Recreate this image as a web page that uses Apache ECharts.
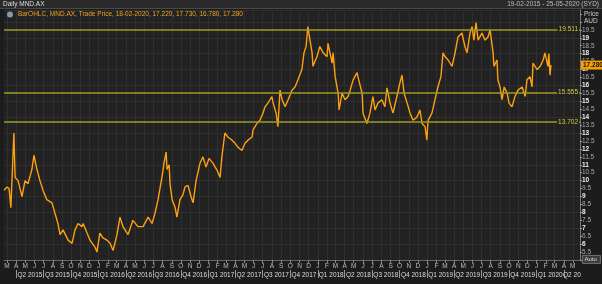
<!DOCTYPE html>
<html><head><meta charset="utf-8">
<script src="https://cdn.jsdelivr.net/npm/echarts@6/dist/echarts.min.js"></script>
<style>
html,body{margin:0;padding:0;background:#1c1c1c;}
#c{width:602px;height:284px;background:linear-gradient(to bottom,#2a2a2a 0,#2a2a2a 8px,#4a4a4a 8px,#4a4a4a 9px,#1c1c1c 9px);}
</style>
</head><body><div id="c"></div>
<script>
// ---- data ----
const dates = [
'2015-02-19','2015-03-01','2015-03-08','2015-03-14','2015-03-24','2015-03-28','2015-04-07','2015-04-20','2015-04-30','2015-05-10',
'2015-05-23','2015-05-30','2015-06-09','2015-06-19','2015-06-29','2015-07-12','2015-07-29','2015-08-08','2015-08-18','2015-08-25',
'2015-09-04','2015-09-21','2015-10-04','2015-10-14','2015-10-24','2015-11-06','2015-11-10','2015-11-23','2015-12-03','2015-12-20',
'2015-12-26','2016-01-05','2016-01-15','2016-01-29','2016-02-08','2016-02-18','2016-03-02','2016-03-12','2016-03-22','2016-04-08',
'2016-04-24','2016-05-11','2016-05-28','2016-06-14','2016-06-27','2016-07-07','2016-07-17','2016-07-30','2016-08-06','2016-08-13',
'2016-08-16','2016-08-23','2016-08-26','2016-09-02','2016-09-12','2016-09-18','2016-09-28','2016-10-08','2016-10-15','2016-10-25',
'2016-11-04','2016-11-11','2016-11-21','2016-12-04','2016-12-14','2016-12-24','2017-01-03','2017-01-16','2017-01-30','2017-02-09',
'2017-02-15','2017-02-25','2017-03-07','2017-03-21','2017-03-31','2017-04-10','2017-04-23','2017-05-03','2017-05-13','2017-05-27',
'2017-05-30','2017-06-12','2017-06-22','2017-07-02','2017-07-09','2017-07-19','2017-08-01','2017-08-05','2017-08-15','2017-08-21',
'2017-08-28','2017-09-04','2017-09-14','2017-09-24','2017-10-07','2017-10-17','2017-10-27','2017-11-09','2017-11-16','2017-11-23',
'2017-11-29','2017-12-06','2017-12-13','2017-12-16','2017-12-29','2018-01-08','2018-01-19','2018-02-01','2018-02-04','2018-02-18',
'2018-02-21','2018-02-28','2018-03-10','2018-03-13','2018-03-23','2018-04-02','2018-04-12','2018-04-19','2018-04-29','2018-05-12',
'2018-05-15','2018-05-29','2018-06-01','2018-06-14','2018-06-24','2018-07-04','2018-07-11','2018-07-21','2018-08-03','2018-08-13',
'2018-08-20','2018-08-30','2018-09-09','2018-09-22','2018-10-02','2018-10-09','2018-10-16','2018-10-26','2018-11-05','2018-11-15',
'2018-11-28','2018-12-08','2018-12-15','2018-12-25','2018-12-31','2019-01-04','2019-01-17','2019-01-27','2019-02-06','2019-02-16',
'2019-02-23','2019-03-02','2019-03-12','2019-03-25','2019-04-04','2019-04-14','2019-04-27','2019-05-07','2019-05-14','2019-05-24',
'2019-05-31','2019-06-06','2019-06-13','2019-06-20','2019-07-03','2019-07-13','2019-07-23','2019-07-30','2019-08-09','2019-08-12',
'2019-08-22','2019-08-25','2019-09-01','2019-09-08','2019-09-15','2019-09-25','2019-10-01','2019-10-11','2019-10-21','2019-10-31',
'2019-11-14','2019-11-24','2019-11-30','2019-12-10','2019-12-17','2019-12-20','2020-01-03','2020-01-13','2020-01-23','2020-01-29',
'2020-02-08','2020-02-11','2020-02-15','2020-02-18'
];
const closes = [
9.4,9.6,9.5,8.3,13.0,10.2,10.0,9.0,10.0,9.8,
10.7,11.6,10.7,10.0,9.4,8.8,8.6,7.95,7.3,6.6,
6.9,6.25,6.05,6.9,7.3,7.1,7.3,6.7,6.25,5.8,
5.5,6.7,6.4,6.25,6.05,5.6,6.6,7.7,7.1,6.6,
7.5,7.1,7.1,7.7,7.3,7.95,8.8,10.2,11.1,11.8,
10.7,11.0,9.8,8.8,8.3,7.7,8.8,9.1,9.6,9.7,
9.0,8.6,10.0,11.1,11.5,10.85,11.4,11.1,10.65,10.2,
11.5,13.0,12.75,12.55,12.35,12.1,11.9,12.35,12.55,12.75,
13.2,13.6,13.8,14.25,14.65,14.9,15.3,14.9,14.25,13.4,
15.7,15.1,14.65,15.1,15.7,15.9,16.35,17.0,18.05,18.45,
19.7,18.85,18.05,17.2,17.8,18.45,18.05,17.8,18.65,17.4,
18.05,16.55,15.5,14.45,15.5,15.1,15.3,15.7,16.35,16.8,
16.55,15.5,14.25,13.6,14.25,15.3,14.45,14.9,15.1,14.65,
15.85,14.9,14.25,15.3,16.15,16.65,15.5,14.9,14.25,13.8,
14.0,14.45,13.6,13.4,12.55,13.8,14.25,15.1,15.9,16.55,
18.05,17.8,17.6,17.2,18.05,19.05,19.3,18.45,18.05,19.3,
19.7,18.85,19.95,18.85,19.3,18.85,19.05,19.5,18.05,17.2,
17.6,16.35,15.9,15.1,15.9,15.5,14.9,14.65,15.3,15.7,
15.9,15.3,16.35,16.55,15.9,17.4,17.0,17.2,17.6,18.05,
17.2,18.0,16.65,17.28
];
const levels = [19.511, 15.555, 13.702];
const lastQuote = ['18-02-2020', 17.220, 17.730, 16.780, 17.280]; // date, open, high, low, close
const axisStart = '2015-02-19';
const axisEnd = '2020-05-25';
const monthLetters = ['J','F','M','A','M','J','J','A','S','O','N','D'];

// ---- helpers ----
const toT = s => { const p = s.split('-'); return new Date(+p[0], +p[1] - 1, +p[2]).getTime(); };
const seriesData = dates.map((d, i) => [toT(d), closes[i]]);
const startT = toT(axisStart), endT = toT(axisEnd);
const monthStarts = [];
for (let y = 2015; y <= 2020; y++) for (let m = 0; m < 12; m++) {
  const t = new Date(y, m, 1).getTime();
  if (t >= startT && t <= endT) monthStarts.push(t);
}
const quarterStarts = monthStarts.filter(t => new Date(t).getMonth() % 3 === 0);
const quarterMids = quarterStarts.map(t => {
  const d = new Date(t);
  const nx = new Date(d.getFullYear(), d.getMonth() + 3, 1).getTime();
  return Math.round((t + Math.min(nx, endT)) / 2);
});
const seriesName = 'BarOHLC, MND.AX, Trade Price, ' + lastQuote[0] + ', ' +
  lastQuote.slice(1).map(v => v.toFixed(3)).join(', ');

const FONT = 'Liberation Sans';
const chart = echarts.init(document.getElementById('c'), null, {renderer: 'canvas'});
chart.setOption({
  backgroundColor: 'transparent',
  animation: false,
  textStyle: {fontFamily: FONT},
  title: [
    {text: 'Daily MND.AX', left: 3, top: 1, padding: 0,
     textStyle: {fontSize: 6.5, color: '#dddddd', fontWeight: 'normal', fontFamily: FONT}},
    {text: '19-02-2015 - 25-05-2020 (SYD)', right: 3, top: 1, padding: 0,
     textStyle: {fontSize: 6.5, color: '#bbbbbb', fontWeight: 'normal', fontFamily: FONT}}
  ],
  legend: {
    left: 7, top: 11, padding: 0, itemWidth: 6, itemHeight: 6, itemGap: 3,
    data: [{name: seriesName, icon: 'circle', itemStyle: {color: '#8899aa'}}],
    textStyle: {color: '#f0a020', fontSize: 6.5, fontFamily: FONT}
  },
  grid: {left: 4, right: 22, top: 10, bottom: 24, show: true,
         backgroundColor: '#222222', borderColor: '#333333', borderWidth: 0},
  xAxis: [
    {type: 'value', min: startT, max: endT, position: 'bottom',
     axisLine: {lineStyle: {color: '#666666'}},
     axisTick: {customValues: monthStarts, length: 3, lineStyle: {color: '#888888'}},
     axisLabel: {customValues: monthStarts, formatter: v => monthLetters[new Date(v).getMonth()],
                 fontSize: 6.5, color: '#bbbbbb', margin: 3, fontFamily: FONT},
     splitLine: {show: true, lineStyle: {color: '#2f2f2f', width: 1}}},
    {type: 'value', min: startT, max: endT, position: 'bottom', offset: 10,
     axisLine: {show: false},
     axisTick: {customValues: quarterStarts, length: 8, lineStyle: {color: '#999999'}},
     axisLabel: {customValues: quarterMids, margin: 2, fontSize: 6.5, color: '#dddddd', fontFamily: FONT,
                 formatter: v => { const d = new Date(v); const q = Math.floor(d.getMonth()/3)+1;
                   return (v > new Date(2020,2,1).getTime()) ? 'Q' + q + ' 20' : 'Q' + q + ' ' + d.getFullYear(); }},
     splitLine: {show: false}}
  ],
  yAxis: [
    {type: 'value', position: 'right', min: 5, max: 20.75, interval: 0.5,
     axisLine: {show: true, lineStyle: {color: '#777777'}},
     axisTick: {show: true, length: 2, lineStyle: {color: '#999999'}},
     axisLabel: {margin: 2, fontSize: 6.5, fontFamily: FONT, showMaxLabel: false,
       formatter: v => (v > 19.6 || v < 5.4) ? '' : (Number.isInteger(v) ? '{b|' + v + '}' : '{a|' + v + '}'),
       rich: {a: {color: '#aaaaaa', fontSize: 6.5, fontFamily: FONT},
              b: {color: '#eeeeee', fontSize: 6.5, fontWeight: 'bold', fontFamily: FONT}}},
     splitLine: {show: false}},
    {type: 'value', position: 'right', min: 5, max: 20.75, interval: 1,
     axisLine: {show: false}, axisTick: {show: false}, axisLabel: {show: false},
     splitLine: {show: true, lineStyle: {color: '#2f2f2f', width: 1}}}
  ],
  graphic: [
    {type: 'text', left: 584, top: 10, style: {text: 'Price\nAUD', fill: '#cccccc', font: '6.5px "Liberation Sans"', lineHeight: 7.5}},
    {type: 'group', left: 582, top: 255, children: [
      {type: 'rect', shape: {x: 0, y: 0, width: 18, height: 8}, style: {fill: '#3c3c3c', stroke: '#888888', lineWidth: 0.8}},
      {type: 'text', x: 2, y: 1, style: {text: 'Auto', fill: '#dddddd', font: '6px "Liberation Sans"'}}
    ]}
  ],
  series: [{
    name: seriesName, type: 'line', data: seriesData, showSymbol: false, symbol: 'none',
    clip: false,
    lineStyle: {color: '#ffa010', width: 1.4},
    itemStyle: {color: '#ffa010'},
    markLine: {
      silent: true, symbol: 'none', precision: 3,
      data: levels.map(v => ({yAxis: v,
        lineStyle: {color: '#9c9c22', width: 1.6, type: 'solid'},
        label: {show: true, position: 'insideEnd', distance: [1, 0], formatter: () => v.toFixed(3),
                color: '#cfcf40', fontSize: 6.5, fontFamily: FONT, backgroundColor: '#222222', padding: [0, 1]}}))
        .concat([{yAxis: lastQuote[4],
          lineStyle: {color: 'rgba(0,0,0,0)', width: 0},
          label: {show: true, position: 'end', distance: [1, 0], formatter: () => lastQuote[4].toFixed(3),
                  color: '#111111', fontSize: 6.5, fontWeight: 'bold', fontFamily: FONT,
                  backgroundColor: '#f5a000', padding: [1, 2]}}])
    }
  }]
});
</script>
</body></html>
